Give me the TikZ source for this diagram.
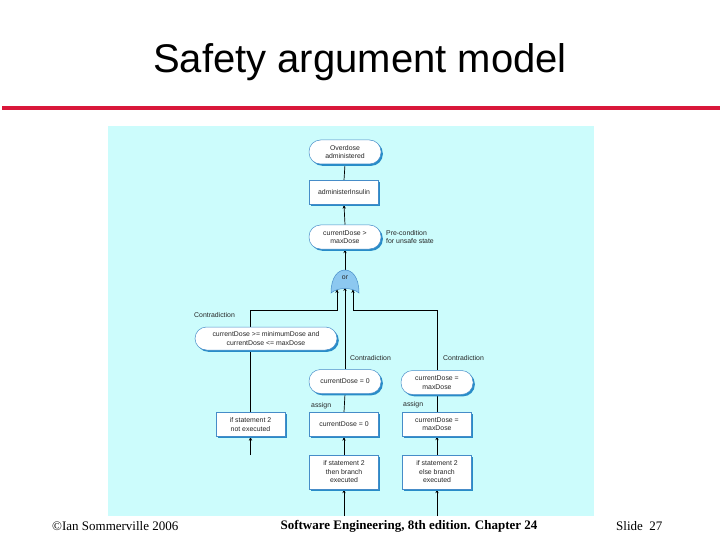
\documentclass[tikz,border=0pt]{standalone}
\usepackage{fontspec}
\setmainfont{Liberation Serif}
\newfontfamily\arialf{Liberation Sans}
\usetikzlibrary{shadows,arrows.meta}
\definecolor{panel}{RGB}{204,252,252}
\definecolor{redline}{RGB}{217,23,58}
\definecolor{edgeblue}{RGB}{70,140,200}
\definecolor{shadowblue}{RGB}{40,140,200}
\definecolor{gatefill}{RGB}{140,200,240}
\pgfdeclarelayer{bg}
\pgfdeclarelayer{lines}
\pgfsetlayers{bg,lines,main}
\tikzset{
  lbl/.style={font=\arialf\fontsize{6.9}{8.5}\selectfont, inner sep=0pt, align=left, text=black!85},
  txt/.style={font=\arialf\fontsize{6.9}{8.5}\selectfont, align=center, text=black!85},
  boxn/.style={txt, draw=edgeblue, line width=0.5pt, fill=white, minimum width=69pt, minimum height=24pt, inner sep=1pt,
     drop shadow={shadow xshift=1.8pt, shadow yshift=-1.8pt, fill=shadowblue, opacity=1}},
  stad/.style={txt, draw=edgeblue, line width=0.5pt, fill=white, rounded corners=11.5pt, minimum width=72pt, minimum height=24pt, inner sep=1pt,
     drop shadow={shadow xshift=1.8pt, shadow yshift=-1.8pt, fill=shadowblue, opacity=1}},
  conn/.style={line width=0.7pt, black},
  arr/.style={conn, -{Stealth[length=4pt,width=3.2pt]}},
}
\begin{document}
\begin{tikzpicture}[x=1pt,y=-1pt]
\useasboundingbox (0,0) rectangle (720,540);
\begin{pgfonlayer}{bg}
  \fill[white] (0,0) rectangle (720,540);
  \fill[panel] (108,126) rectangle (594,516);
  \fill[redline] (2,106.5) rectangle (720,110.5);
\end{pgfonlayer}
% title and footer
\node (title) at (360,62) {\arialf\fontsize{40}{45}\selectfont Safety argument model};
\node[anchor=west, inner sep=0] (foot1) at (52,526) {\fontsize{13}{15}\selectfont ©Ian Sommerville 2006};
\node[inner sep=0] (foot2) at (409,526) {\fontsize{13}{15}\selectfont\bfseries Software Engineering, 8th edition. Chapter 24};
\node[anchor=west, inner sep=0] (foot3) at (616,526) {\fontsize{13}{15}\selectfont Slide\ \ 27};
% nodes
\node[stad] (n1) at (345,152) {Overdose\\administered};
\node[boxn] (n2) at (344,192.5) {administerInsulin};
\node[stad] (n3) at (345,237) {currentDose >\\maxDose};
\node[lbl, anchor=west] (pre) at (386,237) {Pre-condition\\for unsafe state};
% or gate
\fill[gatefill, draw=edgeblue, line width=0.5pt] (331,293) .. controls (331,277) and (338,270) .. (345,270) .. controls (352,270) and (359,277) .. (359,293) .. controls (352,287) and (338,287) .. (331,293) -- cycle;
\node[txt, inner sep=0] (or) at (345,278) {or};
\coordinate (ortop) at (345,270);
\coordinate (orl) at (337,289);
\coordinate (orm) at (345,287);
\coordinate (orr) at (353,289);
\node[lbl, anchor=west] (c1) at (194,315) {Contradiction};
\node[stad, minimum width=142pt, minimum height=23pt] (n6) at (266,338.5) {currentDose >= minimumDose and\\currentDose <= maxDose};
\node[lbl, anchor=west] (c2) at (350,358) {Contradiction};
\node[lbl, anchor=west] (c3) at (443,358) {Contradiction};
\node[stad] (n9) at (345,381.5) {currentDose = 0};
\node[stad] (n10) at (437,382.5) {currentDose =\\maxDose};
\node[lbl, anchor=west] (a1) at (311,406) {assign};
\node[lbl, anchor=west] (a2) at (403,405) {assign};
\node[boxn] (n12) at (344,424.5) {currentDose = 0};
\node[boxn] (n13) at (437,424) {currentDose =\\maxDose};
\node[boxn] (n14) at (250.5,424.5) {if statement 2\\not executed};
\node[boxn, minimum height=34pt] (n15) at (344,472) {if statement 2\\then branch\\executed};
\node[boxn, minimum height=34pt] (n16) at (437,472) {if statement 2\\else branch\\executed};
\coordinate (b14) at (250.5,455);
\coordinate (b15) at (344,516);
\coordinate (b16) at (437,516);
% connectors
\begin{pgfonlayer}{lines}
  \draw[conn] (n2.north) -- (n1.south);
  \draw[arr] (n3.north) -- (n2.south);
  \draw[arr] (ortop) -- (n3.south);
  \draw[arr] (n14.north) -- (250.5,310) -| (orl);
  \draw[arr] (n9.north) -- (orm);
  \draw[arr] (n10.north) -- (437,310) -| (orr);
  \draw[conn] (n12.north) -- (n9.south);
  \draw[conn] (n13.north) -- (n10.south);
  \draw[arr] (b14) -- (n14.south);
  \draw[arr] (n15.north) -- (n12.south);
  \draw[arr] (n16.north) -- (n13.south);
  \draw[arr] (b15) -- (n15.south);
  \draw[arr] (b16) -- (n16.south);
\end{pgfonlayer}
\end{tikzpicture}
\end{document}
